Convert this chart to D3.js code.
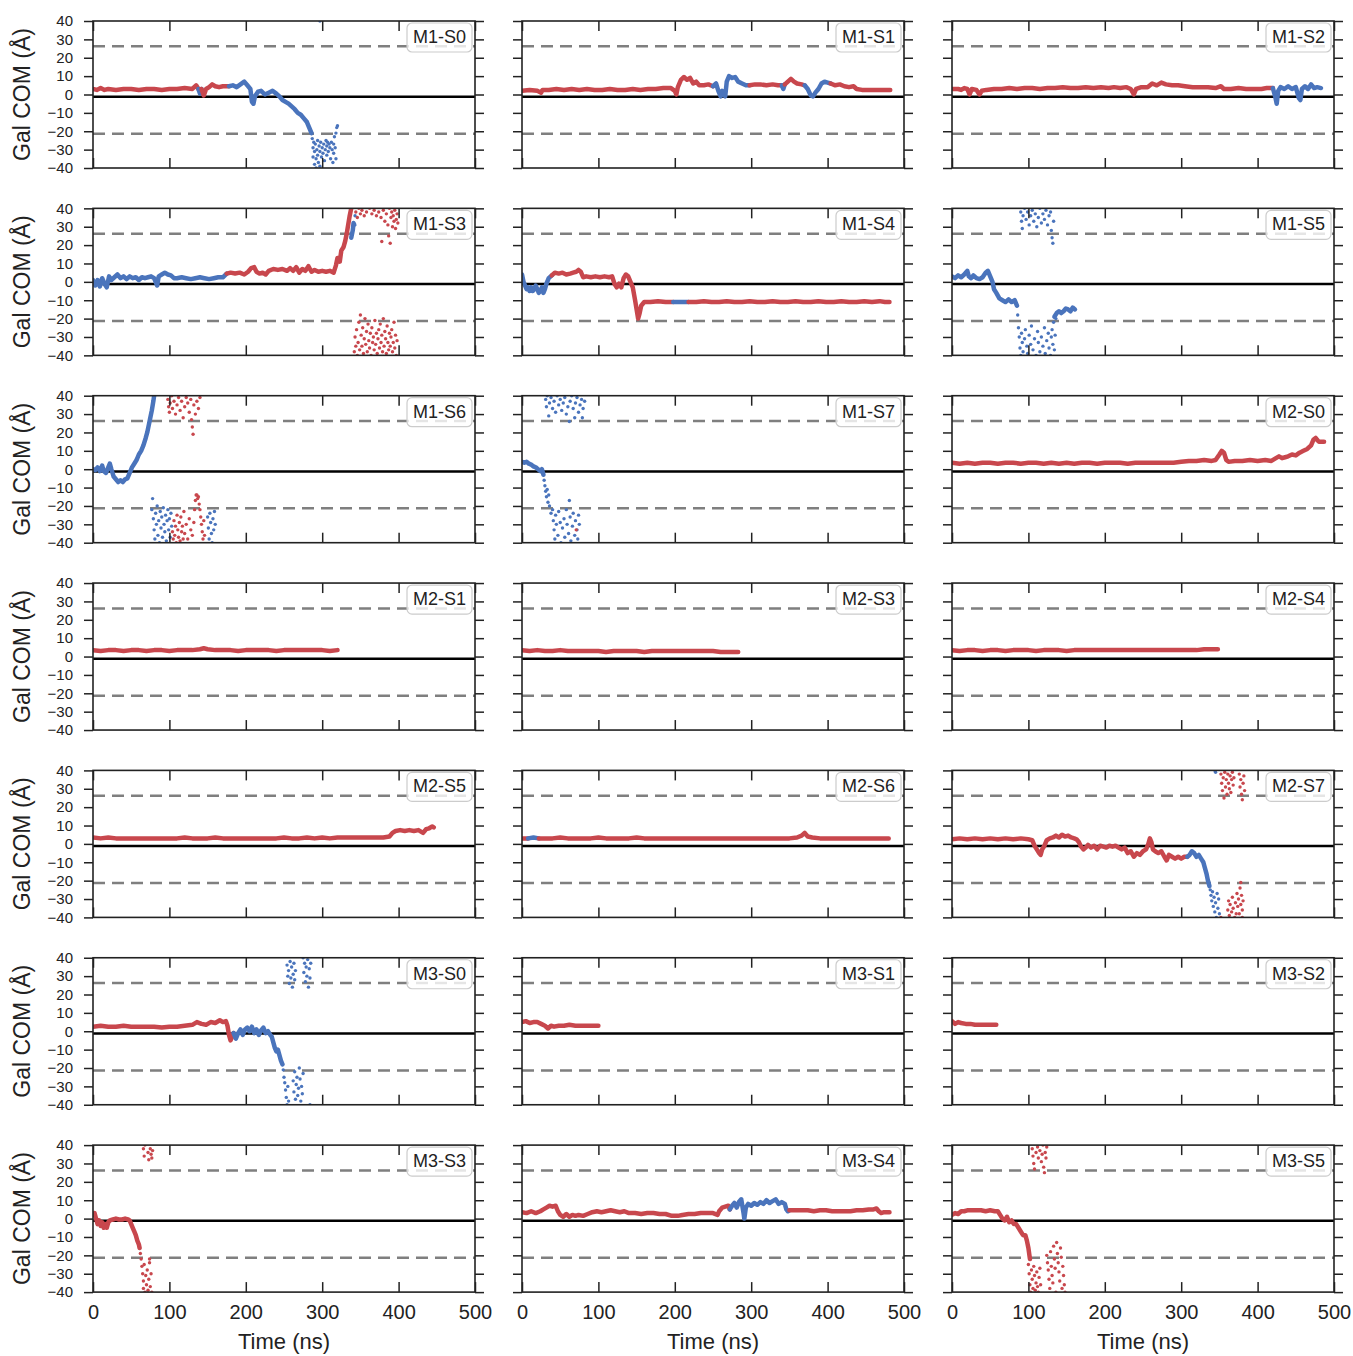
<!DOCTYPE html>
<html>
<head>
<meta charset="utf-8">
<script src="https://cdn.jsdelivr.net/npm/d3@7"></script>
<style>
  body { margin: 0; background: #fff; }
  svg text { font-family: "Liberation Sans", Arial, Helvetica, sans-serif; fill: #222; }
</style>
</head>
<body>
<svg id="chart" width="1353" height="1356"></svg>
<script>
// ---- data (time in ns, Gal COM in Angstrom) ----
const timeTicks = [0, 100, 200, 300, 400, 500];
const comTicks = [40, 30, 20, 10, 0, -10, -20, -30, -40];
const boundaryLevels = [26.2, -21.3];
const centerLevel = -1.2;
const panelNames = ['M1-S0', 'M1-S1', 'M1-S2', 'M1-S3', 'M1-S4', 'M1-S5', 'M1-S6', 'M1-S7',
  'M2-S0', 'M2-S1', 'M2-S3', 'M2-S4', 'M2-S5', 'M2-S6', 'M2-S7',
  'M3-S0', 'M3-S1', 'M3-S2', 'M3-S3', 'M3-S4', 'M3-S5'];

// each trace: [colour, kind, points]; 'band' = dense trajectory, 'dots' = scattered frames
const M1_S0 = [
  ['r', 'band', [[0,3],[5,2.5],[10,3.5],[15,2.5],[20,3],[30,2.5],[40,3],[50,3],[60,2.5],[70,3],[80,3],[90,2.5],[100,3],[110,3],[120,3.5],[130,3],[135,5],[138,3]]],
  ['b', 'band', [[138,3],[140,0.5],[142,3]]],
  ['r', 'band', [[142,3],[145,-0.5],[148,3],[152,4],[156,5.5],[160,4.5],[165,4],[170,4.5],[178,4.5]]],
  ['b', 'band', [[178,4.5],[183,5],[188,4],[193,5.5],[198,7],[202,5],[206,3],[208,-4],[210,-5],[212,-1],[216,1.5],[220,2],[225,0],[230,1],[235,2],[240,0.5],[244,-1],[248,-3],[252,-4],[256,-5],[260,-6.5],[264,-8],[268,-10],[272,-11],[276,-13],[280,-15],[283,-18],[286,-21]]],
  ['b', 'dots', [[287,-24],[288,-29],[288,-34],[289,-26],[290,-38],[290,-31],[291,-27],[292,-35],[292,-40],[293,-30],[294,-25],[294,-33],[295,-37],[296,-28],[297,-31],[297,-39],[298,-26],[299,-34],[300,-29],[301,-32],[302,-27],[303,-36],[304,-30],[305,-25],[306,-28],[306,-33],[307,-26],[308,-31],[309,-27],[310,-29],[311,-35],[312,-26],[313,-30],[314,-37],[315,-27],[315,-32],[316,-23],[317,-29],[318,-21],[318,-35],[319,-18],[320,-17],[297,40]]]
];
const M1_S1 = [
  ['r', 'band', [[0,2],[10,2.5],[20,2],[25,1],[27,2.5],[35,2.5],[45,3],[55,2.5],[65,3],[75,2.5],[85,3],[95,2.5],[105,2.5],[115,3],[125,2.5],[135,2.5],[145,3],[155,2.5],[165,3],[175,3],[185,3.5],[195,3.5],[200,2],[202,0],[204,4],[208,8],[212,9.5],[216,8],[220,9],[224,6],[228,7],[232,5],[238,5],[244,5.5],[250,4.5]]],
  ['b', 'band', [[250,4.5],[254,6],[257,2],[260,-1],[262,2],[264,0],[266,-1],[268,7],[271,10],[275,9],[279,9.5],[283,7],[288,6],[293,5],[298,5]]],
  ['r', 'band', [[298,5],[305,5.5],[312,5.5],[320,5],[328,5.5],[335,5],[340,5]]],
  ['b', 'band', [[340,5],[342,3],[344,5.5]]],
  ['r', 'band', [[344,5.5],[348,7],[352,8.5],[356,7],[360,6],[366,5.5],[370,5]]],
  ['b', 'band', [[370,5],[374,3],[378,-0.5],[381,-1],[384,1],[388,3],[392,6],[396,7],[400,6.5],[404,6]]],
  ['r', 'band', [[404,6],[410,5],[416,5.5],[422,4.5],[428,4],[434,4.5],[438,3],[445,2.5],[455,2.5],[465,2.5],[475,2.5],[482,2.5]]]
];
const M1_S2 = [
  ['r', 'band', [[0,3],[8,3],[12,2.5],[16,3.5],[20,3],[23,0],[26,3],[32,2.5],[36,0],[39,2],[45,2.5],[55,3],[65,3],[75,3.5],[85,3],[95,3.5],[105,3.5],[115,3],[125,3.5],[135,3.5],[145,4],[155,3.5],[165,3.5],[175,4],[185,3.5],[195,4],[205,3.5],[212,4],[220,3.5],[228,4],[234,3],[238,0],[241,3],[248,4],[256,4],[262,6],[268,5],[274,6.5],[280,5.5],[288,5],[296,5],[305,4.5],[315,4],[325,4],[335,4],[345,3.5],[352,4.5],[356,3],[365,3],[375,3.5],[385,3],[395,3],[405,3],[412,3.5],[420,3.5]]],
  ['b', 'band', [[420,3.5],[423,-1],[425,-5],[427,2],[430,4],[435,3],[440,4.5],[445,3],[450,4],[454,-2],[456,-3],[458,3],[462,4.5],[466,3],[470,5.5],[474,3.5],[478,4],[483,3.5]]]
];
const M1_S3 = [
  ['b', 'band', [[0,1],[3,-2],[6,1],[9,-2.5],[12,2],[15,-1],[18,-3],[21,3],[24,1],[28,2.5],[32,4],[36,2],[40,3],[44,1.5],[48,3],[52,2],[56,2.5],[60,1],[64,2.5],[68,2],[72,2.5],[76,3],[80,2],[84,-2],[86,3],[90,4],[94,5],[98,4],[102,3.5],[106,2],[110,2],[116,2.5],[122,2],[128,1.5],[134,2],[140,2.5],[146,2],[152,1.5],[158,2],[164,2.5],[170,2.5],[175,4.5]]],
  ['r', 'band', [[175,4.5],[180,5],[186,4.5],[192,5],[198,4],[203,5.5],[207,7.5],[211,8],[214,5.5],[218,4.5],[222,5],[226,4],[230,6],[236,7],[242,6.5],[248,7],[254,6],[258,7.5],[262,6],[266,8],[270,5],[274,7],[278,6],[282,8.5],[286,5.5],[290,6.5],[295,5.5],[300,6],[305,5.5],[310,6],[315,5],[318,9],[320,13],[323,11],[325,17],[328,19],[330,22],[332,26],[334,31],[336,36],[338,40]]],
  ['b', 'band', [[338,24],[340,28],[341,32],[342,31]]],
  ['b', 'dots', [[343,36]]],
  ['r', 'dots', [[344,38],[346,35],[348,40],[350,37],[352,39],[355,36],[358,38],[362,40],[365,37],[368,39],[371,36],[374,38],[377,35],[378,22],[380,39],[382,33],[384,37],[386,31],[387,25],[388,40],[389,21],[390,35],[391,38],[392,30],[393,36],[394,33],[395,39],[396,29],[397,34],[398,37],[399,32]]],
  ['r', 'dots', [[342,-38],[343,-30],[344,-35],[345,-26],[346,-40],[347,-33],[348,-22],[349,-37],[350,-18],[351,-29],[352,-35],[353,-25],[354,-39],[355,-31],[356,-20],[357,-34],[358,-27],[359,-38],[360,-23],[361,-32],[362,-36],[363,-28],[364,-40],[365,-25],[366,-33],[367,-30],[368,-37],[369,-21],[370,-34],[371,-28],[372,-39],[373,-31],[374,-26],[375,-36],[376,-23],[377,-33],[378,-29],[379,-38],[380,-20],[381,-35],[382,-27],[383,-31],[384,-39],[385,-24],[386,-33],[387,-37],[388,-28],[389,-35],[390,-30],[391,-26],[392,-38],[393,-33],[394,-22],[395,-36],[396,-29],[397,-40],[398,-32]]]
];
const M1_S4 = [
  ['b', 'band', [[0,4],[2,0],[4,-2],[6,-4],[8,-3],[10,-5],[12,-3],[14,-5],[16,-4],[18,-2],[20,-4],[22,-6],[24,-5],[26,-3],[28,-6],[30,-4],[32,-1],[35,2],[39,3.5]]],
  ['r', 'band', [[39,3.5],[43,5],[48,4.5],[53,5],[58,4],[63,4.5],[67,5],[71,5.5],[74,6.5],[77,5.5],[80,2.5],[84,3],[90,2.5],[96,3],[102,2.5],[108,3],[114,2.5],[118,3],[121,-1],[124,-3],[127,-1],[130,-3],[133,2],[136,4],[139,3],[142,0],[145,-3],[148,-10],[150,-15],[152,-20],[154,-17],[156,-13],[160,-11],[168,-11],[178,-10.5],[188,-11],[198,-11]]],
  ['b', 'band', [[198,-11],[208,-11],[218,-11]]],
  ['r', 'band', [[218,-11],[228,-11],[238,-10.5],[248,-11],[258,-11],[268,-10.5],[278,-11],[288,-11],[298,-10.5],[308,-11],[318,-11],[328,-10.5],[338,-11],[348,-11],[358,-10.5],[368,-11],[378,-11],[388,-10.5],[398,-11],[408,-11],[418,-10.5],[428,-11],[438,-11],[448,-10.5],[458,-11],[468,-10.5],[475,-11],[481,-11]]]
];
const M1_S5 = [
  ['b', 'band', [[0,3],[4,2],[8,3.5],[12,2.5],[16,4],[20,6],[22,3],[25,2],[28,3.5],[32,2],[36,1.5],[40,2.5],[44,5],[47,6],[50,3],[53,0],[55,-4],[58,-6],[62,-9],[66,-10],[70,-11],[74,-9.5],[78,-11],[82,-10],[85,-13]]],
  ['b', 'dots', [[86,-18],[87,-25],[88,-30],[89,-36],[90,-40],[91,-28],[92,-33],[93,-38],[95,-31],[96,-26],[98,-35],[99,-39],[101,-29],[103,-34],[104,-24],[106,-37],[108,-31],[110,-40],[112,-27],[113,-33],[115,-38],[117,-30],[119,-35],[121,-25],[122,-39],[124,-32],[126,-28],[127,-36],[129,-40],[130,-30],[131,-26],[132,-34],[133,-22],[134,-37],[135,-29],[136,-20]]],
  ['b', 'dots', [[90,38],[91,33],[92,29],[93,36],[95,40],[97,34],[99,38],[101,31],[103,36],[105,39],[107,33],[109,37],[111,30],[113,35],[115,40],[117,32],[119,37],[121,34],[123,39],[125,31],[127,36],[129,38],[130,28],[131,24],[132,21],[133,33]]],
  ['b', 'band', [[134,-19],[137,-17],[140,-16],[143,-17],[146,-16],[149,-14.5],[152,-15],[155,-16],[158,-14],[161,-15]]]
];
const M1_S6 = [
  ['b', 'band', [[0,0],[3,-0.5],[6,1],[9,-1],[12,2],[14,-1],[17,-2],[20,1],[22,3],[24,0],[27,-4],[30,-5.5],[33,-7],[36,-6],[39,-7],[42,-5.5],[45,-5],[48,-2],[51,1],[54,3],[57,5],[60,8],[63,10],[66,13],[69,17],[71,20],[73,24],[75,28],[77,32],[79,37],[80,40]]],
  ['r', 'dots', [[98,38],[99,34],[100,31],[101,36],[103,40],[104,33],[106,37],[108,30],[110,35],[112,39],[114,32],[116,37],[118,28],[120,34],[122,39],[124,36],[126,31],[128,38],[129,27],[130,23],[131,19],[132,35],[134,30],[136,37],[138,33],[140,39]]],
  ['b', 'dots', [[77,-22],[78,-16],[79,-27],[80,-33],[81,-38],[82,-24],[83,-30],[84,-20],[85,-36],[86,-28],[87,-40],[88,-23],[89,-32],[90,-26],[91,-37],[92,-21],[93,-30],[94,-34],[95,-25],[96,-39],[97,-28],[98,-22],[99,-33],[100,-27],[101,-37],[102,-24],[103,-31]]],
  ['r', 'dots', [[104,-34],[105,-38],[106,-28],[107,-36],[108,-31],[109,-40],[110,-25],[111,-33],[112,-37],[113,-29],[114,-39],[115,-26],[116,-34],[117,-31],[118,-38],[119,-23],[120,-35],[122,-30],[124,-38],[126,-27],[128,-33],[130,-36],[132,-29],[133,-22],[134,-17],[135,-14],[136,-14],[137,-16],[138,-15],[139,-19],[140,-22],[141,-26],[142,-30],[143,-34],[144,-38],[145,-28],[146,-36]]],
  ['b', 'dots', [[150,-26],[151,-32],[152,-38],[153,-24],[154,-29],[155,-35],[156,-40],[157,-27],[158,-33],[159,-23],[160,-30]]]
];
const M1_S7 = [
  ['b', 'band', [[0,4],[3,3.5],[6,4],[9,3],[12,2.5],[15,1.5],[18,1],[21,0],[24,-1],[26,0],[28,-3]]],
  ['b', 'dots', [[29,-6],[30,-9],[31,-12],[32,-15],[33,-11],[34,-18],[35,-14],[36,-20],[38,-24],[40,-22],[41,-28],[42,-33],[43,-38],[44,-25],[45,-30],[47,-36],[48,-23],[50,-29],[51,-40],[53,-32],[55,-27],[56,-37],[58,-22],[59,-30],[61,-35],[62,-17],[63,-26],[64,-39],[66,-31],[67,-24],[69,-36],[70,-28],[72,-33],[73,-38],[74,-25],[75,-30]]],
  ['b', 'dots', [[31,38],[32,34],[33,40],[35,29],[36,36],[38,39],[40,33],[42,37],[44,31],[46,40],[48,35],[50,38],[52,32],[54,36],[56,39],[58,30],[60,34],[62,26],[63,37],[65,40],[67,33],[69,28],[70,36],[72,39],[74,31],[76,35],[78,38],[79,28],[80,33],[82,37]]],
  ['r', 'dots', [[71,-33]]]
];
const M2_S0 = [
  ['r', 'band', [[0,3.5],[10,3],[20,3.5],[30,3],[40,3.5],[50,3.5],[60,3],[70,3.5],[80,3.5],[90,3],[100,3.5],[110,3.5],[120,3],[130,3.5],[140,3],[150,3.5],[160,3],[170,3.5],[180,3.5],[190,3],[200,3.5],[210,3.5],[220,3.5],[230,3],[240,3.5],[250,3.5],[260,3.5],[270,3.5],[280,3.5],[290,3.5],[300,4],[310,4.5],[320,4.5],[330,5],[340,4.5],[345,5],[350,8],[353,10],[356,9],[359,5],[362,4],[370,4.5],[380,4.5],[390,5],[400,4.5],[410,5],[418,4.5],[424,6],[428,7],[432,6],[436,6.5],[440,7],[445,8],[450,7.5],[455,9],[460,10],[465,11],[470,13],[473,16],[476,17],[480,15],[484,15],[487,15]]]
];
const M2_S1 = [
  ['r', 'band', [[0,3.5],[10,3],[20,3.5],[30,3.5],[40,3],[50,3.5],[60,3.5],[70,3],[80,3.5],[90,3.5],[100,3],[110,3.5],[120,3.5],[130,3.5],[140,4],[145,4.5],[150,4],[160,3.5],[170,3.5],[180,3.5],[190,3],[200,3.5],[210,3.5],[220,3.5],[230,3.5],[240,3],[250,3.5],[260,3.5],[270,3.5],[280,3.5],[290,3.5],[300,3.5],[310,3],[320,3.5]]]
];
const M2_S3 = [
  ['r', 'band', [[0,3.5],[10,3],[20,3.5],[30,3],[40,3],[50,3.5],[60,3],[70,3],[80,3],[90,3],[100,3],[110,2.5],[120,3],[130,3],[140,3],[150,3],[160,2.5],[170,3],[180,3],[190,3],[200,3],[210,3],[220,3],[230,3],[240,3],[250,3],[260,2.5],[270,2.5],[283,2.5]]]
];
const M2_S4 = [
  ['r', 'band', [[0,3.5],[10,3],[20,3.5],[30,3.5],[40,3],[50,3.5],[60,3.5],[70,3],[80,3.5],[90,3.5],[100,3.5],[110,3],[120,3.5],[130,3.5],[140,3.5],[150,3],[160,3.5],[170,3.5],[180,3.5],[190,3.5],[200,3.5],[210,3.5],[220,3.5],[230,3.5],[240,3.5],[250,3.5],[260,3.5],[270,3.5],[280,3.5],[290,3.5],[300,3.5],[310,3.5],[320,3.5],[330,4],[340,4],[348,4]]]
];
const M2_S5 = [
  ['r', 'band', [[0,3.5],[10,3],[20,3.5],[30,3],[40,3],[50,3],[60,3],[70,3],[80,3],[90,3],[100,3],[110,3],[120,3.5],[130,3],[140,3],[150,3],[160,3.5],[170,3],[180,3],[190,3],[200,3],[210,3],[220,3],[230,3],[240,3],[250,3.5],[260,3],[270,3],[280,3.5],[290,3],[300,3.5],[310,3],[320,3.5],[330,3.5],[340,3.5],[350,3.5],[360,3.5],[370,3.5],[380,3.5],[388,4],[392,6],[396,7],[402,7.5],[408,7],[414,7.5],[420,7],[426,7.5],[432,6],[436,8],[440,8.5],[444,9.5],[446,9]]]
];
const M2_S6 = [
  ['r', 'band', [[0,3],[8,3]]],
  ['b', 'band', [[8,3],[15,3.5],[22,3]]],
  ['r', 'band', [[22,3],[30,3],[40,3],[50,3.5],[60,3],[70,3],[80,3],[90,3],[100,3.5],[110,3],[120,3],[130,3],[140,3],[150,3.5],[160,3],[170,3],[180,3],[190,3],[200,3],[210,3],[220,3],[230,3],[240,3],[250,3],[260,3],[270,3],[280,3],[290,3],[300,3],[310,3],[320,3],[330,3],[340,3],[350,3],[360,3.5],[366,4.5],[370,6],[374,4],[380,3.5],[390,3],[400,3],[410,3],[420,3],[430,3],[440,3],[450,3],[460,3],[470,3],[480,3]]]
];
const M2_S7 = [
  ['r', 'band', [[0,2.5],[10,3],[20,2.5],[30,3],[40,2.5],[50,3],[60,2.5],[70,3],[80,2.5],[90,3],[100,2.5],[105,2],[108,-1],[111,-3],[114,-5],[116,-6],[118,-3],[121,-1],[124,2],[128,3],[132,3.5],[136,4.5],[140,3.5],[144,5],[148,4],[152,4.5],[156,3.5],[160,3],[163,2.5],[166,1],[169,-1.5],[172,-3],[175,-2],[178,-0.5],[182,-2],[186,-1],[190,-3],[194,-1],[198,-1.5],[202,-2],[206,-1],[210,-1.5],[214,-1],[218,-2],[222,-3],[226,-2],[230,-5],[234,-4],[238,-7],[242,-5],[246,-6],[250,-4],[254,-3],[257,0],[259,3],[261,1],[263,-3],[266,-4],[270,-5],[274,-4],[278,-7],[281,-9],[284,-6],[288,-7],[292,-8],[296,-7],[300,-8],[304,-7],[308,-7]]],
  ['b', 'band', [[308,-7],[311,-6],[314,-4],[317,-5],[320,-7],[323,-6],[326,-8],[329,-10],[331,-13],[333,-16],[335,-20],[337,-23]]],
  ['b', 'dots', [[338,-25],[339,-28],[340,-31],[341,-26],[342,-34],[343,-29],[344,-37],[345,-32],[346,-40],[347,-27],[348,-35],[349,-30],[350,-38],[344,40],[345,39]]],
  ['r', 'dots', [[352,-40],[352,38],[353,33],[354,29],[355,36],[356,25],[357,39],[358,31],[359,35],[360,27],[361,38],[362,33],[363,30],[364,37],[365,28],[366,35],[367,39],[368,32],[369,36],[376,38],[377,31],[378,35],[379,27],[380,24],[381,33],[382,37],[383,29]]],
  ['r', 'dots', [[361,-36],[362,-31],[363,-39],[364,-33],[366,-37],[367,-29],[368,-35],[370,-40],[371,-32],[372,-38],[373,-27],[374,-34],[375,-30],[376,-38],[377,-24],[378,-21],[378,-33],[379,-28],[380,-36],[381,-31],[380,-40]]]
];
const M3_S0 = [
  ['r', 'band', [[0,2.5],[10,3],[20,2.5],[30,2.5],[40,3],[50,2.5],[60,2.5],[70,2.5],[80,2.5],[90,2],[100,2.5],[110,2.5],[120,3],[130,3.5],[136,5],[142,4],[148,3.5],[154,5],[160,4.5],[166,6],[170,5],[174,5.5],[176,3],[178,-2],[180,-5],[182,-3],[184,-1]]],
  ['b', 'band', [[184,-1],[187,-4],[190,-1],[193,1],[196,-2],[199,1],[202,2],[205,0],[208,2.5],[211,-1],[214,1],[217,-2],[220,0.5],[223,2],[226,-1],[229,0],[232,-2],[234,-3],[236,-6],[238,-9],[240,-11],[242,-10],[244,-13],[246,-16],[248,-18]]],
  ['b', 'dots', [[249,-21],[250,-25],[251,-28],[252,-32],[253,-36],[254,-40],[255,-30],[256,-38],[262,-27],[263,-33],[264,-22],[265,-37],[266,-29],[267,-25],[268,-35],[269,-31],[270,-20],[271,-26],[272,-38],[273,-30],[274,-34],[275,-23],[284,-40]]],
  ['b', 'dots', [[254,36],[255,30],[256,33],[257,26],[258,38],[259,29],[260,35],[261,24],[262,31],[263,37],[264,28],[265,33],[275,40],[276,32],[277,37],[278,27],[279,35],[280,30],[281,39],[282,24],[283,34],[284,29],[285,37]]]
];
const M3_S1 = [
  ['r', 'band', [[0,5],[5,5.5],[10,4.5],[15,5],[20,5],[25,4],[30,3],[34,1.5],[38,3],[42,2.5],[48,3],[55,3],[62,3.5],[70,3],[78,3],[85,3],[92,3],[100,3]]]
];
const M3_S2 = [
  ['r', 'band', [[0,5.5],[4,4],[8,5],[12,4.5],[18,4],[24,4],[30,3.5],[36,3.5],[42,3.5],[50,3.5],[58,3.5]]]
];
const M3_S3 = [
  ['r', 'band', [[0,2],[2,3],[4,0],[6,-3],[8,-1],[10,-4],[12,-2],[14,-5],[16,-3],[18,-5],[20,-2],[22,-1],[26,-0.5],[30,0],[34,-0.5],[38,-0.5],[42,0],[46,-0.5],[48,-1],[50,-3],[52,-5],[54,-7],[56,-9],[58,-12],[60,-14],[61,-16]]],
  ['r', 'dots', [[62,-19],[63,-22],[64,-26],[65,-30],[66,-34],[66,-38],[67,-25],[68,-40],[69,-31],[70,-36],[71,-28],[72,-39],[73,-33],[74,-24],[75,-37],[76,-30],[77,-40],[74,-22]]],
  ['r', 'dots', [[66,38],[67,34],[68,40],[72,36],[73,32],[75,38],[76,35],[77,33],[78,37]]]
];
const M3_S4 = [
  ['r', 'band', [[0,3.5],[6,3],[12,4],[18,3],[24,4],[28,5],[32,6],[36,7],[40,6.5],[44,7],[47,4],[50,2],[54,1],[58,2.5],[62,1],[66,2],[70,1.5],[74,2],[80,1.5],[86,2.5],[92,3.5],[98,4],[104,3.5],[110,4],[116,4.5],[122,4],[128,3.5],[134,4],[140,3],[148,3],[156,2.5],[164,3],[172,3],[180,2.5],[188,2.5],[196,1.5],[204,1.5],[210,2],[218,2.5],[226,2.5],[234,3],[242,3],[250,3],[256,2],[258,4],[262,6],[266,6.5],[270,7],[272,5]]],
  ['b', 'band', [[272,5],[275,7],[278,8.5],[281,6],[284,9],[287,10.5],[290,3],[291,0],[293,6],[296,8],[300,7],[304,8.5],[308,7.5],[312,9],[316,8],[320,10],[324,8.5],[328,9.5],[332,10.5],[336,8],[340,9],[344,8],[346,5],[348,4],[350,4.5]]],
  ['r', 'band', [[350,4.5],[358,4.5],[366,4.5],[374,4.5],[382,4],[390,4.5],[398,4.5],[406,4],[414,4],[422,4],[430,4],[438,4.5],[446,4.5],[454,5],[460,5],[464,5.5],[467,4],[470,3],[474,3.5],[478,3.5],[481,3.5]]]
];
const M3_S5 = [
  ['r', 'band', [[0,2],[4,3],[8,2.5],[12,4],[16,4],[20,4.5],[26,4.5],[32,4.5],[38,4.5],[44,4],[50,4.5],[56,4],[60,4],[63,2],[66,0],[69,-1],[72,1],[75,-2],[78,-1],[81,-3],[84,-3],[87,-5],[90,-7],[93,-9],[96,-9],[98,-12],[100,-16],[102,-22]]],
  ['r', 'dots', [[100,-25],[101,-30],[102,-36],[103,-40],[104,-28],[105,-33],[106,-38],[107,-26],[108,-31],[109,-39],[110,-35],[111,-29],[112,-37],[113,-40],[114,-32],[115,-27],[116,-36],[124,-20],[125,-24],[126,-28],[127,-33],[128,-38],[129,-18],[130,-26],[131,-31],[132,-35],[133,-15],[134,-22],[135,-27],[136,-40],[137,-13],[138,-19],[139,-24],[140,-29],[141,-34],[142,-16],[143,-21],[144,-38],[145,-26],[146,-31],[147,-36],[148,-40]]],
  ['r', 'dots', [[105,38],[106,34],[107,30],[108,27],[110,36],[112,39],[113,33],[115,37],[117,31],[118,35],[119,40],[120,28],[121,25],[122,36],[123,33],[124,39]]]
];

const panelTraces = [M1_S0, M1_S1, M1_S2, M1_S3, M1_S4, M1_S5, M1_S6, M1_S7,
  M2_S0, M2_S1, M2_S3, M2_S4, M2_S5, M2_S6, M2_S7,
  M3_S0, M3_S1, M3_S2, M3_S3, M3_S4, M3_S5];

// ---- layout ----
const colLeft = [93, 522, 952];
const rowTop0 = 21, rowStep = 187.35;
const plotW = 382, plotH = 147;
const nRows = 7;
const colors = { r: '#c8474d', b: '#4a74bc' };

const svg = d3.select('#chart');

const x = d3.scaleLinear().domain([0, 500]).range([0, plotW]);
const y = d3.scaleLinear().domain([-40, 40]).range([plotH, 0]);

const line = d3.line()
  .x(d => x(d[0]))
  .y(d => y(d[1]));

svg.append('defs').append('clipPath')
  .attr('id', 'plot-clip')
  .append('rect')
  .attr('width', plotW)
  .attr('height', plotH);

panelNames.forEach((name, i) => {
  const col = i % 3;
  const row = Math.floor(i / 3);
  const g = svg.append('g')
    .attr('transform', `translate(${colLeft[col]},${rowTop0 + row * rowStep})`);

  const plot = g.append('g').attr('clip-path', 'url(#plot-clip)');

  // reference levels
  plot.selectAll('.bound')
    .data(boundaryLevels)
    .join('line')
    .attr('x1', 0).attr('x2', plotW)
    .attr('y1', d => y(d)).attr('y2', d => y(d))
    .attr('stroke', '#7f7f7f')
    .attr('stroke-width', 2.5)
    .attr('stroke-dasharray', '12,7');

  plot.append('line')
    .attr('x1', 0).attr('x2', plotW)
    .attr('y1', y(centerLevel)).attr('y2', y(centerLevel))
    .attr('stroke', '#000')
    .attr('stroke-width', 2.5);

  // trajectories
  panelTraces[i].forEach(([c, kind, pts]) => {
    if (kind === 'band') {
      plot.append('path')
        .datum(pts)
        .attr('d', line)
        .attr('fill', 'none')
        .attr('stroke', colors[c])
        .attr('stroke-width', 4.5)
        .attr('stroke-linejoin', 'round')
        .attr('stroke-linecap', 'round');
    } else {
      plot.append('g')
        .selectAll('circle')
        .data(pts)
        .join('circle')
        .attr('cx', d => x(d[0]))
        .attr('cy', d => y(d[1]))
        .attr('r', 1.7)
        .attr('fill', colors[c]);
    }
  });

  // legend box
  g.append('rect')
    .attr('x', plotW - 68).attr('y', 2)
    .attr('width', 65).attr('height', 29)
    .attr('rx', 5)
    .attr('fill', '#fff').attr('fill-opacity', 0.8)
    .attr('stroke', '#cccccc').attr('stroke-width', 1.2);
  g.append('text')
    .attr('x', plotW - 35.5).attr('y', 22)
    .attr('text-anchor', 'middle')
    .style('font-size', '18px')
    .text(name);

  // axes: y ticks outward on both sides, x ticks inward top and bottom
  const left = g.append('g')
    .call(d3.axisLeft(y).tickValues(comTicks).tickSize(9).tickPadding(11)
      .tickFormat(col === 0 ? d3.format('d') : ''));
  const right = g.append('g')
    .attr('transform', `translate(${plotW},0)`)
    .call(d3.axisRight(y).tickValues(comTicks).tickSize(9).tickFormat(''));
  const top = g.append('g')
    .call(d3.axisBottom(x).tickValues(timeTicks).tickSize(10).tickFormat(''));
  const bottom = g.append('g')
    .attr('transform', `translate(0,${plotH})`)
    .call(d3.axisTop(x).tickValues(timeTicks).tickSize(10).tickFormat(''));

  [left, right, top, bottom].forEach(a => {
    a.select('.domain').remove();
    a.selectAll('.tick line').attr('stroke', '#222').attr('stroke-width', 1.5);
  });
  left.selectAll('.tick text').style('font-size', '15px').attr('fill', '#222');

  if (row === nRows - 1) {
    const labels = g.append('g')
      .attr('transform', `translate(0,${plotH})`)
      .call(d3.axisBottom(x).tickValues(timeTicks).tickSize(0).tickPadding(13));
    labels.select('.domain').remove();
    labels.selectAll('.tick text').style('font-size', '20px').attr('fill', '#222');

    g.append('text')
      .attr('x', plotW / 2)
      .attr('y', plotH + 57)
      .attr('text-anchor', 'middle')
      .style('font-size', '22px')
      .text('Time (ns)');
  }

  if (col === 0) {
    g.append('text')
      .attr('transform', `translate(${30 - colLeft[0]},${plotH / 2}) rotate(-90)`)
      .attr('text-anchor', 'middle')
      .style('font-size', '23px')
      .text('Gal COM (Å)');
  }

  // frame
  g.append('rect')
    .attr('width', plotW).attr('height', plotH)
    .attr('fill', 'none')
    .attr('stroke', '#222')
    .attr('stroke-width', 1.6);
});
</script>
</body>
</html>
